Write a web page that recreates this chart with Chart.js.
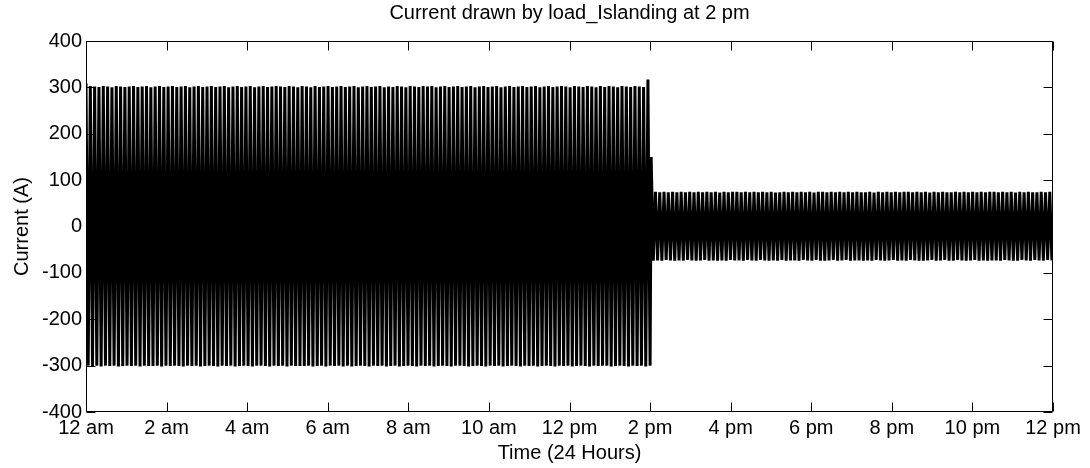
<!DOCTYPE html>
<html>
<head>
<meta charset="utf-8">
<script src="https://cdn.jsdelivr.net/npm/chart.js@4.4.1/dist/chart.umd.min.js"></script>
<style>
  html, body { margin: 0; padding: 0; background: #fff; }
  #wrap { width: 1090px; height: 468px; position: relative; }
</style>
</head>
<body>
<div id="wrap"><canvas id="c" width="1090" height="468"></canvas></div>
<script>
// ---- data ----
const timeLabels = ["12 am","2 am","4 am","6 am","8 am","10 am","12 pm","2 pm","4 pm","6 pm","8 pm","10 pm","12 pm"];
const dayStartHour = 0;
const islandingHour = 14;
const dayEndHour = 24;

// alternating peak / trough currents (A) before islanding (12 am - 2 pm)
const currentBeforeIslanding = [
  309,-300,303,-301,302,-300,301,-302,303,-300,302,-301,300,-300,303,-302,302,-301,301,-300,
  302,-301,303,-300,301,-302,302,-300,303,-301,300,-301,302,-300,303,-302,301,-300,302,-301,
  303,-300,301,-301,302,-302,303,-300,300,-301,302,-300,303,-302,301,-301,302,-300,303,-301,
  301,-302,302,-300,303,-301,300,-300,302,-302,303,-301,301,-300,302,-301,303,-302,300,-300,
  302,-300,303,-301,301,-302,302,-300,303,-301,302,-300,301,-302,303,-300,302,-301,300,-301,
  303,-301,302,-300,300,-302,303,-301,301,-300,302,-302,303,-300,301,-301,302,-300,303,-302,
  301,-300,302,-302,303,-301,300,-300,302,-301,303,-302,301,-300,302,-301,303,-300,300,-302,
  302,-301,301,-300,303,-302,302,-301,300,-300,303,-301,302,-302,301,-300,303,-301,302,-300,
  303,-302,300,-301,302,-300,303,-301,301,-302,302,-300,303,-300,301,-301,302,-302,303,-301,
  300,-300,302,-301,303,-302,301,-300,302,-301,303,-300,300,-302,302,-301,303,-300,301,-301,
  302,-302,303,-300,301,-301,302,-300,303,-302,300,-301,302,-300,303,-301,301,-302,302,-300,
  303,-301,302,-300,300,-302,303,-301,302,-300,301,-301,303,-302,302,-300,300,-301,303,-300,
  301,-300,303,-302,302,-301,300,-300,303,-301,302,-302,301,-300,303,-301,302,-300,301,-302,
  317,-300
];

// alternating peak / trough currents (A) after islanding (2 pm - 12 pm)
const currentAfterIslanding = [
  150,-74,75,-73,74,-74,75,-72,74,-73,75,-74,74,-73,75,-74,74,-72,75,-73,
  74,-74,75,-73,74,-72,75,-74,74,-73,75,-74,73,-73,75,-74,74,-72,75,-73,
  75,-73,74,-74,75,-72,74,-73,75,-74,74,-72,75,-73,74,-74,75,-73,73,-74,
  74,-72,75,-74,74,-73,75,-73,74,-74,75,-72,74,-73,75,-74,73,-72,75,-74,
  75,-74,74,-73,75,-72,74,-74,75,-73,74,-72,75,-74,74,-73,75,-73,74,-74,
  74,-73,75,-74,73,-72,75,-73,74,-74,75,-73,74,-72,75,-74,74,-73,75,-74,
  75,-72,74,-73,75,-74,74,-74,75,-73,73,-72,75,-74,74,-73,75,-72,74,-74,
  74,-74,75,-72,74,-73,75,-74,74,-73,75,-72,74,-74,75,-73,74,-74,75,-73,
  75,-73,74,-74,75,-72,74,-73,75,-74,73,-74,75,-72,74,-73,75,-74,74,-72,
  74,-73,75,-74,74,-72,75,-73
];

// ---- build points (sample times spaced evenly within each period) ----
const points = [];
currentBeforeIslanding.forEach((v, i) => {
  points.push({ x: dayStartHour + i * (islandingHour - dayStartHour) / (currentBeforeIslanding.length - 1), y: v });
});
currentAfterIslanding.forEach((v, i) => {
  points.push({ x: islandingHour + (i + 0.5) * (dayEndHour - islandingHour) / currentAfterIslanding.length, y: v });
});

const FONT = "'Liberation Sans', Arial, Helvetica, sans-serif";
Chart.defaults.font.family = FONT;
Chart.defaults.color = '#000';

const matlabBox = {
  id: 'matlabBox',
  afterDatasetsDraw(chart) {
    const { ctx, chartArea: a, scales } = chart;
    const L = Math.round(a.left) + 0.5, R = Math.round(a.right) - 0.5;
    const T = Math.round(a.top) + 0.5, B = Math.round(a.bottom) - 0.5;
    const tl = 9;
    ctx.save();
    ctx.strokeStyle = '#000';
    ctx.lineWidth = 1;
    ctx.beginPath();
    scales.x.ticks.forEach(t => {
      const px = Math.round(scales.x.getPixelForValue(t.value)) + 0.5;
      ctx.moveTo(px, B); ctx.lineTo(px, B - tl);
      ctx.moveTo(px, T); ctx.lineTo(px, T + tl);
    });
    scales.y.ticks.forEach(t => {
      const py = Math.round(scales.y.getPixelForValue(t.value)) + 0.5;
      ctx.moveTo(L, py); ctx.lineTo(L + tl, py);
      ctx.moveTo(R, py); ctx.lineTo(R - tl, py);
    });
    ctx.stroke();
    ctx.beginPath();
    ctx.rect(L, T, R - L, B - T);
    ctx.stroke();
    ctx.restore();
  }
};

new Chart(document.getElementById('c'), {
  type: 'line',
  data: {
    datasets: [{
      data: points,
      borderColor: '#000',
      borderWidth: 3,
      pointRadius: 0,
      tension: 0,
      fill: false,
      borderJoinStyle: 'bevel'
    }]
  },
  options: {
    responsive: false,
    animation: false,
    events: [],
    layout: { padding: { left: 0, right: 37, top: 0, bottom: 0 } },
    plugins: {
      legend: { display: false },
      tooltip: { enabled: false },
      title: {
        display: true,
        fullSize: false,
        text: 'Current drawn by load_Islanding at 2 pm',
        font: { size: 20, weight: 'normal', family: FONT },
        color: '#000',
        padding: { top: 1, bottom: 16 }
      }
    },
    scales: {
      x: {
        type: 'linear',
        min: dayStartHour,
        max: dayEndHour,
        afterFit: s => { s.height = 56; },
        grid: { display: false, drawTicks: false },
        border: { display: false },
        ticks: {
          stepSize: 2,
          autoSkip: false,
          maxRotation: 0,
          padding: 4,
          font: { size: 20, family: FONT },
          color: '#000',
          callback: (v) => timeLabels[Math.round((v - dayStartHour) / 2)]
        },
        title: {
          display: true,
          text: 'Time (24 Hours)',
          font: { size: 20, family: FONT },
          color: '#000',
          padding: { top: 0, bottom: 3 }
        }
      },
      y: {
        min: -400,
        max: 400,
        afterFit: s => { s.width = 86; },
        grid: { display: false, drawTicks: false },
        border: { display: false },
        ticks: {
          stepSize: 100,
          padding: 4,
          font: { size: 20, family: FONT },
          color: '#000'
        },
        title: {
          display: true,
          text: 'Current (A)',
          font: { size: 20, family: FONT },
          color: '#000',
          padding: { top: 10, bottom: 0 }
        }
      }
    }
  },
  plugins: [matlabBox]
});
</script>
</body>
</html>
